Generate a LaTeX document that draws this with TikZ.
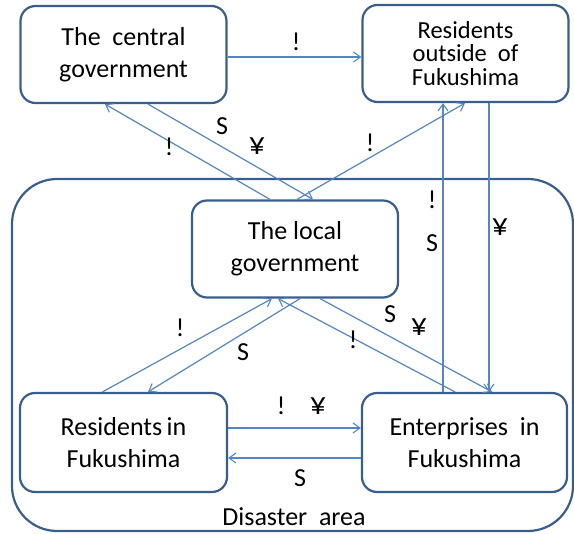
\documentclass[tikz,border=0pt]{standalone}
\usepackage{fontspec}
\setmainfont{Carlito}
\usetikzlibrary{arrows.meta,calc}
\definecolor{boxblue}{RGB}{58,94,140}
\definecolor{flowblue}{RGB}{84,134,196}
\begin{document}
\begin{tikzpicture}[x=1pt,y=-1pt,
  actor/.style={draw=boxblue,line width=2.2pt,rounded corners=15pt,
    minimum width=206pt,minimum height=97pt,align=center,inner sep=2pt,
    font=\fontsize{26}{32}\selectfont},
  flow/.style={draw=flowblue,line width=1.2pt,-{Straight Barb[length=7pt,width=10pt,line width=1.1pt]}},
  tag/.style={font=\fontsize{26}{28}\selectfont,inner sep=0pt},
  yen/.style={tag,font=\fontsize{32}{34}\selectfont}]
\useasboundingbox (0,0) rectangle (574,534);
% disaster area frame
\draw[boxblue,line width=2.2pt,rounded corners=45pt] (12,179) rectangle (573,531);
\node[tag] (area) at (294,517) {Disaster\ \ area};
% actors
\node[actor] (cg) at (123.5,54.5) {The\ \ central\\government};
\node[actor,font=\fontsize{24.5}{23.5}\selectfont] (ro) at (465.5,53.5) {Residents\\outside\ \ of\\Fukushima};
\node[actor] (lg) at (295,249) {The local\\government};
\node[actor,minimum width=207pt,minimum height=99pt] (ri) at (123.5,442.5) {Residents\,in\\Fukushima};
\node[actor,minimum width=205pt,minimum height=99pt] (en) at (464.5,442.5) {Enterprises\ \ in\\Fukushima};
% flows (yshift is measured upwards)
\draw[flow] ([yshift=-2.5pt]cg.east) -- ([yshift=-3.5pt]ro.west);
\draw[flow] ([xshift=23.5pt]ro.south) -- ([xshift=24.5pt]en.north);
\draw[flow] ([xshift=-21.5pt]en.north) -- ([xshift=-22.5pt]ro.south);
\draw[flow] ([xshift=2pt]lg.north) -- ([xshift=-0.5pt]ro.south);
\draw[flow] ([xshift=-25pt]lg.north) -- ([xshift=-18.5pt]cg.south);
\draw[flow] ([xshift=24.5pt]cg.south) -- ([xshift=18pt]lg.north);
\draw[flow] ([xshift=-21pt]ri.north) -- ([xshift=-23pt]lg.south);
\draw[flow] ([xshift=5pt]lg.south) -- ([xshift=24.5pt]ri.north);
\draw[flow] ([xshift=25pt]lg.south) -- ([xshift=27.5pt]en.north);
\draw[flow] ([xshift=-9.5pt]en.north) -- ([xshift=-17pt]lg.south);
\draw[flow] ([yshift=14.5pt]ri.east) -- ([yshift=14.5pt]en.west);
\draw[flow] ([yshift=-15.5pt]en.west) -- ([yshift=-15.5pt]ri.east);
% flow labels
\node[tag] (l1) at (296,42) {!};
\node[yen] (l2) at (500,227) {¥};
\node[tag] (l3) at (432,200) {!};
\node[tag] (l4) at (432,243) {S};
\node[tag] (l5) at (370,143) {!};
\node[tag] (l6) at (169,147) {!};
\node[tag] (l7) at (222,126) {S};
\node[yen] (l8) at (257,146) {¥};
\node[tag] (l9) at (180,328) {!};
\node[tag] (l10) at (243,352) {S};
\node[tag] (l11) at (390,314) {S};
\node[yen] (l12) at (419,327) {¥};
\node[tag] (l13) at (353,340) {!};
\node[tag] (l14) at (281,406) {!};
\node[yen] (l15) at (318,406) {¥};
\node[tag] (l16) at (300,478) {S};
\end{tikzpicture}
\end{document}
